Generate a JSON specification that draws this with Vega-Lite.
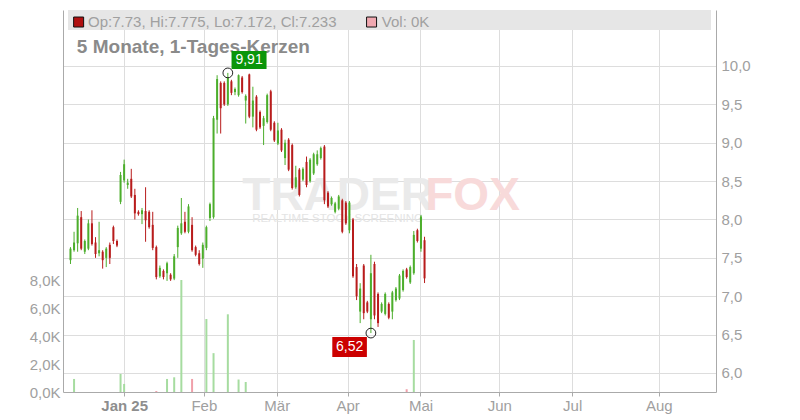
{
  "$schema": "https://vega.github.io/schema/vega-lite/v6.json",
  "width": 653,
  "height": 382,
  "autosize": {"type": "none"},
  "padding": {"left": 63, "top": 10, "right": 84, "bottom": 28},
  "background": "white",
  "config": {
    "view": {"stroke": null},
    "font": "Liberation Sans",
    "axis": {"labelFont": "Liberation Sans", "labelFontSize": 15, "labelColor": "#a0a0a0", "domainColor": "#aaaaaa", "tickColor": "#aaaaaa", "gridColor": "#dddddd", "gridWidth": 1}
  },
  "datasets": {
    "candles": [
      {"i": -15, "o": 7.47, "h": 7.64, "l": 7.42, "c": 7.62, "v": 0},
      {"i": -14, "o": 7.60, "h": 7.84, "l": 7.58, "c": 7.70, "v": 0.94},
      {"i": -13, "o": 7.69, "h": 8.15, "l": 7.58, "c": 8.05, "v": 0},
      {"i": -12, "o": 8.03, "h": 8.11, "l": 7.60, "c": 7.62, "v": 0},
      {"i": -11, "o": 7.58, "h": 7.74, "l": 7.55, "c": 7.72, "v": 0},
      {"i": -10, "o": 7.62, "h": 8.00, "l": 7.60, "c": 7.95, "v": 0},
      {"i": -9, "o": 7.95, "h": 8.12, "l": 7.66, "c": 7.68, "v": 0},
      {"i": -8, "o": 7.70, "h": 7.77, "l": 7.50, "c": 7.55, "v": 0},
      {"i": -7, "o": 7.56, "h": 7.97, "l": 7.52, "c": 7.60, "v": 0},
      {"i": -6, "o": 7.58, "h": 7.60, "l": 7.36, "c": 7.47, "v": 0},
      {"i": -5, "o": 7.50, "h": 7.64, "l": 7.38, "c": 7.62, "v": 0},
      {"i": -4, "o": 7.67, "h": 7.70, "l": 7.42, "c": 7.50, "v": 0},
      {"i": -3, "o": 7.90, "h": 7.92, "l": 7.68, "c": 7.72, "v": 0},
      {"i": -2, "o": 7.72, "h": 7.74, "l": 7.64, "c": 7.66, "v": 0},
      {"i": -1, "o": 8.23, "h": 8.62, "l": 8.20, "c": 8.58, "v": 1.3},
      {"i": 0, "o": 8.51, "h": 8.78, "l": 8.48, "c": 8.72, "v": 0.58},
      {"i": 1, "o": 8.45, "h": 8.53, "l": 8.40, "c": 8.48, "v": 0},
      {"i": 2, "o": 8.53, "h": 8.66, "l": 8.28, "c": 8.30, "v": 0},
      {"i": 3, "o": 8.32, "h": 8.40, "l": 8.00, "c": 8.08, "v": 0},
      {"i": 4, "o": 8.10, "h": 8.12, "l": 8.05, "c": 8.07, "v": 0},
      {"i": 5, "o": 8.07, "h": 8.15, "l": 7.94, "c": 8.12, "v": 0},
      {"i": 6, "o": 8.11, "h": 8.42, "l": 7.71, "c": 7.99, "v": 0},
      {"i": 7, "o": 8.10, "h": 8.12, "l": 7.88, "c": 7.90, "v": 0},
      {"i": 8, "o": 7.93, "h": 8.10, "l": 7.60, "c": 7.63, "v": 0},
      {"i": 9, "o": 7.64, "h": 7.66, "l": 7.22, "c": 7.25, "v": 0.07},
      {"i": 10, "o": 7.26, "h": 7.40, "l": 7.24, "c": 7.37, "v": 0},
      {"i": 11, "o": 7.33, "h": 7.35, "l": 7.22, "c": 7.25, "v": 0},
      {"i": 12, "o": 7.30, "h": 7.45, "l": 7.20, "c": 7.43, "v": 0.94},
      {"i": 13, "o": 7.28, "h": 7.30, "l": 7.20, "c": 7.22, "v": 0},
      {"i": 14, "o": 7.23, "h": 7.55, "l": 7.21, "c": 7.52, "v": 1.06},
      {"i": 15, "o": 7.64, "h": 7.92, "l": 7.50, "c": 7.89, "v": 0},
      {"i": 16, "o": 7.82, "h": 8.28, "l": 7.80, "c": 7.95, "v": 8.07},
      {"i": 17, "o": 7.97, "h": 8.10, "l": 7.82, "c": 7.84, "v": 0},
      {"i": 18, "o": 7.84, "h": 8.20, "l": 7.82, "c": 8.17, "v": 0},
      {"i": 19, "o": 7.93, "h": 8.03, "l": 7.58, "c": 7.60, "v": 0.94},
      {"i": 20, "o": 7.64, "h": 7.66, "l": 7.52, "c": 7.54, "v": 0},
      {"i": 21, "o": 7.56, "h": 7.60, "l": 7.40, "c": 7.42, "v": 0},
      {"i": 22, "o": 7.49, "h": 7.70, "l": 7.37, "c": 7.67, "v": 0},
      {"i": 23, "o": 7.63, "h": 7.92, "l": 7.60, "c": 7.90, "v": 5.26},
      {"i": 24, "o": 8.02, "h": 8.22, "l": 7.98, "c": 8.20, "v": 0},
      {"i": 25, "o": 8.03, "h": 9.35, "l": 8.01, "c": 9.32, "v": 2.8},
      {"i": 26, "o": 9.30, "h": 9.88, "l": 9.12, "c": 9.83, "v": 0},
      {"i": 27, "o": 9.78, "h": 9.80, "l": 9.12, "c": 9.45, "v": 0},
      {"i": 28, "o": 9.78, "h": 9.80, "l": 9.48, "c": 9.50, "v": 0},
      {"i": 29, "o": 9.50, "h": 9.91, "l": 9.48, "c": 9.85, "v": 5.6},
      {"i": 30, "o": 9.80, "h": 9.82, "l": 9.62, "c": 9.65, "v": 0},
      {"i": 31, "o": 9.66, "h": 9.72, "l": 9.62, "c": 9.70, "v": 0},
      {"i": 32, "o": 9.62, "h": 9.89, "l": 9.60, "c": 9.88, "v": 0.9},
      {"i": 33, "o": 9.85, "h": 9.87, "l": 9.64, "c": 9.66, "v": 0},
      {"i": 34, "o": 9.55, "h": 9.63, "l": 9.25, "c": 9.61, "v": 0.72},
      {"i": 35, "o": 9.89, "h": 9.90, "l": 9.32, "c": 9.34, "v": 0},
      {"i": 36, "o": 9.34, "h": 9.73, "l": 9.20, "c": 9.55, "v": 0},
      {"i": 37, "o": 9.60, "h": 9.62, "l": 9.15, "c": 9.17, "v": 0},
      {"i": 38, "o": 9.40, "h": 9.42, "l": 9.18, "c": 9.20, "v": 0},
      {"i": 39, "o": 9.22, "h": 9.35, "l": 8.97, "c": 9.32, "v": 0},
      {"i": 40, "o": 9.27, "h": 9.64, "l": 9.25, "c": 9.62, "v": 0},
      {"i": 41, "o": 9.67, "h": 9.69, "l": 9.15, "c": 9.17, "v": 0},
      {"i": 42, "o": 9.26, "h": 9.28, "l": 9.01, "c": 9.03, "v": 0},
      {"i": 43, "o": 8.99, "h": 9.26, "l": 8.97, "c": 9.16, "v": 0},
      {"i": 44, "o": 9.17, "h": 9.19, "l": 8.88, "c": 8.90, "v": 0},
      {"i": 45, "o": 8.80, "h": 9.04, "l": 8.71, "c": 9.00, "v": 0},
      {"i": 46, "o": 9.04, "h": 9.06, "l": 8.63, "c": 8.65, "v": 0},
      {"i": 47, "o": 8.97, "h": 8.99, "l": 8.39, "c": 8.41, "v": 0},
      {"i": 48, "o": 8.42, "h": 8.70, "l": 8.40, "c": 8.55, "v": 0},
      {"i": 49, "o": 8.65, "h": 8.67, "l": 8.30, "c": 8.32, "v": 0},
      {"i": 50, "o": 8.52, "h": 8.68, "l": 8.50, "c": 8.66, "v": 0},
      {"i": 51, "o": 8.75, "h": 8.82, "l": 8.42, "c": 8.45, "v": 0},
      {"i": 52, "o": 8.50, "h": 8.80, "l": 8.48, "c": 8.78, "v": 0},
      {"i": 53, "o": 8.60, "h": 8.87, "l": 8.58, "c": 8.85, "v": 0},
      {"i": 54, "o": 8.72, "h": 8.90, "l": 8.70, "c": 8.85, "v": 0},
      {"i": 55, "o": 8.80, "h": 8.95, "l": 8.78, "c": 8.93, "v": 0},
      {"i": 56, "o": 8.95, "h": 8.97, "l": 8.20, "c": 8.25, "v": 0},
      {"i": 57, "o": 8.35, "h": 8.37, "l": 8.15, "c": 8.17, "v": 0},
      {"i": 58, "o": 8.20, "h": 8.30, "l": 8.18, "c": 8.28, "v": 0},
      {"i": 59, "o": 8.10, "h": 8.23, "l": 8.08, "c": 8.21, "v": 0},
      {"i": 60, "o": 8.14, "h": 8.32, "l": 8.12, "c": 8.30, "v": 0},
      {"i": 61, "o": 8.25, "h": 8.27, "l": 7.82, "c": 7.84, "v": 0},
      {"i": 62, "o": 8.22, "h": 8.24, "l": 7.93, "c": 7.95, "v": 0},
      {"i": 63, "o": 7.86, "h": 8.24, "l": 7.82, "c": 8.22, "v": 0},
      {"i": 64, "o": 8.00, "h": 8.02, "l": 7.24, "c": 7.26, "v": 0},
      {"i": 65, "o": 7.38, "h": 7.42, "l": 6.95, "c": 7.00, "v": 0},
      {"i": 66, "o": 6.80, "h": 7.17, "l": 6.65, "c": 7.10, "v": 0},
      {"i": 67, "o": 7.40, "h": 7.42, "l": 6.70, "c": 6.78, "v": 0},
      {"i": 68, "o": 6.92, "h": 6.94, "l": 6.78, "c": 6.80, "v": 0},
      {"i": 69, "o": 6.70, "h": 7.54, "l": 6.52, "c": 7.30, "v": 0},
      {"i": 70, "o": 7.42, "h": 7.45, "l": 6.70, "c": 6.75, "v": 0},
      {"i": 71, "o": 7.03, "h": 7.05, "l": 6.60, "c": 6.65, "v": 0},
      {"i": 72, "o": 6.80, "h": 6.92, "l": 6.78, "c": 6.90, "v": 0},
      {"i": 73, "o": 6.77, "h": 7.05, "l": 6.75, "c": 7.03, "v": 0},
      {"i": 74, "o": 6.90, "h": 6.92, "l": 6.70, "c": 6.72, "v": 0},
      {"i": 75, "o": 6.80, "h": 7.07, "l": 6.70, "c": 7.05, "v": 0},
      {"i": 76, "o": 6.95, "h": 7.12, "l": 6.93, "c": 7.10, "v": 0},
      {"i": 77, "o": 6.97, "h": 7.29, "l": 6.95, "c": 7.27, "v": 0},
      {"i": 78, "o": 7.08, "h": 7.35, "l": 7.06, "c": 7.33, "v": 0},
      {"i": 79, "o": 7.35, "h": 7.37, "l": 7.23, "c": 7.25, "v": 0.2},
      {"i": 80, "o": 7.18, "h": 7.40, "l": 7.16, "c": 7.38, "v": 0},
      {"i": 81, "o": 7.30, "h": 7.85, "l": 7.28, "c": 7.80, "v": 3.75},
      {"i": 82, "o": 7.86, "h": 7.88, "l": 7.70, "c": 7.72, "v": 0},
      {"i": 83, "o": 7.62, "h": 8.06, "l": 7.58, "c": 8.04, "v": 0},
      {"i": 84, "o": 7.73, "h": 7.775, "l": 7.172, "c": 7.233, "v": 0}
    ]
  },
  "layer": [
    {
      "layer": [
        {
          "data": {"values": [{}]},
          "mark": {"type": "rect", "fill": "#e6e6e6"},
          "encoding": {
            "x": {"datum": -15.694, "type": "quantitative", "scale": {"domain": [-15.694, 164.1], "nice": false, "zero": false},
              "axis": {"values": [0, 22.3, 42.68, 62.5, 82.87, 104.9, 125.28, 149.5], "title": null, "grid": true, "tickSize": 4, "labelPadding": 2, "labelFlush": false, "labelOverlap": false,
                "labelExpr": "datum.value < 10 ? 'Jan 25' : datum.value < 30 ? 'Feb' : datum.value < 50 ? 'Mär' : datum.value < 70 ? 'Apr' : datum.value < 90 ? 'Mai' : datum.value < 110 ? 'Jun' : datum.value < 130 ? 'Jul' : 'Aug'",
                "labelFontWeight": {"condition": {"test": "datum.value < 10", "value": "bold"}, "value": "normal"},
                "labelColor": {"condition": {"test": "datum.value < 10", "value": "#8e8e8e"}, "value": "#a0a0a0"}}},
            "x2": {"datum": 164.1},
            "y": {"datum": 10.7296, "type": "quantitative", "scale": {"domain": [5.7524, 10.7296], "nice": false, "zero": false},
              "axis": {"orient": "right", "values": [6, 6.5, 7, 7.5, 8, 8.5, 9, 9.5, 10], "title": null, "grid": true, "ticks": false, "labelPadding": 5,
                "labelExpr": "replace(format(datum.value, '.1f'), '.', ',')"}},
            "y2": {"datum": 10.469}
          }
        },
        {
          "data": {"values": [{}]},
          "mark": {"type": "text", "text": "TRADER", "align": "left", "baseline": "alphabetic", "fontSize": 46, "fontWeight": "bold", "fill": "#eaeaea"},
          "encoding": {"x": {"datum": 33.04, "type": "quantitative"}, "y": {"datum": 8.124, "type": "quantitative"}}
        },
        {
          "data": {"values": [{}]},
          "mark": {"type": "text", "text": "FOX", "align": "left", "baseline": "alphabetic", "fontSize": 46, "fontWeight": "bold", "fill": "#f8dada"},
          "encoding": {"x": {"datum": 84.2, "type": "quantitative"}, "y": {"datum": 8.124, "type": "quantitative"}}
        },
        {
          "data": {"values": [{}]},
          "mark": {"type": "text", "text": "REALTIME STOCK SCREENING", "align": "left", "baseline": "alphabetic", "fontSize": 11.5, "fill": "#e4e4e4"},
          "encoding": {"x": {"datum": 35.8, "type": "quantitative"}, "y": {"datum": 7.967, "type": "quantitative"}}
        },
        {
          "data": {"values": [{}]},
          "mark": {"type": "point", "shape": "square", "size": 100, "filled": true, "fill": "#b01010", "stroke": "#111111", "strokeWidth": 1, "opacity": 1},
          "encoding": {"x": {"datum": -12.72, "type": "quantitative"}, "y": {"datum": 10.573, "type": "quantitative"}}
        },
        {
          "data": {"values": [{}]},
          "mark": {"type": "point", "shape": "square", "size": 100, "filled": true, "fill": "#f0a8b0", "stroke": "#111111", "strokeWidth": 1, "opacity": 1},
          "encoding": {"x": {"datum": 69.19, "type": "quantitative"}, "y": {"datum": 10.573, "type": "quantitative"}}
        },
        {
          "data": {"values": [{}]},
          "mark": {"type": "text", "text": "Op:7.73, Hi:7.775, Lo:7.172, Cl:7.233", "align": "left", "baseline": "middle", "fontSize": 15, "fill": "#a0a0a0"},
          "encoding": {"x": {"datum": -10.1, "type": "quantitative"}, "y": {"datum": 10.573, "type": "quantitative"}}
        },
        {
          "data": {"values": [{}]},
          "mark": {"type": "text", "text": "Vol: 0K", "align": "left", "baseline": "middle", "fontSize": 15, "fill": "#a0a0a0"},
          "encoding": {"x": {"datum": 72.05, "type": "quantitative"}, "y": {"datum": 10.573, "type": "quantitative"}}
        },
        {
          "data": {"values": [{}]},
          "mark": {"type": "text", "text": "5 Monate, 1-Tages-Kerzen", "align": "left", "baseline": "alphabetic", "fontSize": 19, "fontWeight": "bold", "fill": "#8a8a8a"},
          "encoding": {"x": {"datum": -13.22, "type": "quantitative"}, "y": {"datum": 10.169, "type": "quantitative"}}
        },
        {
          "data": {"name": "candles"},
          "mark": {"type": "rule", "strokeWidth": 1},
          "encoding": {
            "x": {"field": "i", "type": "quantitative"},
            "y": {"field": "l", "type": "quantitative"},
            "y2": {"field": "h"},
            "color": {"condition": {"test": "datum.c >= datum.o", "value": "#4cae2c"}, "value": "#b81c1c"}
          }
        },
        {
          "data": {"name": "candles"},
          "mark": {"type": "bar", "width": 2},
          "encoding": {
            "x": {"field": "i", "type": "quantitative"},
            "y": {"field": "o", "type": "quantitative"},
            "y2": {"field": "c"},
            "color": {"condition": {"test": "datum.c >= datum.o", "value": "#4cae2c"}, "value": "#b81c1c"}
          }
        },
        {
          "data": {"name": "candles"},
          "transform": [{"filter": "datum.i == 29"}],
          "mark": {"type": "rect", "fill": "#0a960a", "xOffset": 3.7, "x2Offset": 38.7, "yOffset": -22, "y2Offset": -4},
          "encoding": {"x": {"field": "i", "type": "quantitative"}, "x2": {"field": "i"}, "y": {"field": "h", "type": "quantitative"}, "y2": {"field": "h"}}
        },
        {
          "data": {"name": "candles"},
          "transform": [{"filter": "datum.i == 29"}],
          "mark": {"type": "text", "text": "9,91", "fill": "white", "fontSize": 14, "align": "center", "baseline": "middle", "dx": 21.2, "dy": -13},
          "encoding": {"x": {"field": "i", "type": "quantitative"}, "y": {"field": "h", "type": "quantitative"}}
        },
        {
          "data": {"name": "candles"},
          "transform": [{"filter": "datum.i == 29"}],
          "mark": {"type": "point", "shape": "circle", "size": 95, "filled": false, "stroke": "#222222", "strokeWidth": 1, "opacity": 1},
          "encoding": {"x": {"field": "i", "type": "quantitative"}, "y": {"field": "h", "type": "quantitative"}}
        },
        {
          "data": {"name": "candles"},
          "transform": [{"filter": "datum.i == 69"}],
          "mark": {"type": "rect", "fill": "#cc0000", "xOffset": -38.6, "x2Offset": -4, "yOffset": 4, "y2Offset": 24},
          "encoding": {"x": {"field": "i", "type": "quantitative"}, "x2": {"field": "i"}, "y": {"field": "l", "type": "quantitative"}, "y2": {"field": "l"}}
        },
        {
          "data": {"name": "candles"},
          "transform": [{"filter": "datum.i == 69"}],
          "mark": {"type": "text", "text": "6,52", "fill": "white", "fontSize": 14, "align": "center", "baseline": "middle", "dx": -21.3, "dy": 14},
          "encoding": {"x": {"field": "i", "type": "quantitative"}, "y": {"field": "l", "type": "quantitative"}}
        },
        {
          "data": {"name": "candles"},
          "transform": [{"filter": "datum.i == 69"}],
          "mark": {"type": "point", "shape": "circle", "size": 95, "filled": false, "stroke": "#222222", "strokeWidth": 1, "opacity": 1},
          "encoding": {"x": {"field": "i", "type": "quantitative"}, "y": {"field": "l", "type": "quantitative"}}
        }
      ]
    },
    {
      "data": {"name": "candles"},
      "transform": [{"filter": "datum.v > 0"}],
      "mark": {"type": "bar", "width": 2},
      "encoding": {
        "x": {"field": "i", "type": "quantitative"},
        "y": {"field": "v", "type": "quantitative", "scale": {"domain": [0, 27.53], "nice": false, "zero": true},
          "axis": {"orient": "left", "values": [0, 2, 4, 6, 8], "title": null, "grid": false, "ticks": false, "labelPadding": 3,
            "labelExpr": "replace(format(datum.value, '.1f'), '.', ',') + 'K'"}},
        "y2": {"datum": 0},
        "color": {"condition": {"test": "datum.c >= datum.o", "value": "#a6dca0"}, "value": "#f0a0aa"}
      }
    }
  ],
  "resolve": {"scale": {"y": "independent"}, "axis": {"y": "independent"}}
}
